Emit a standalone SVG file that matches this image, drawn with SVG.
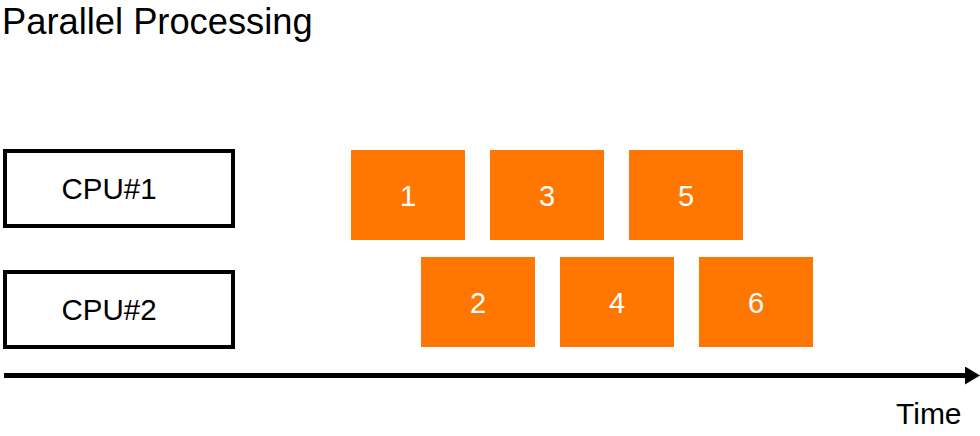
<svg xmlns="http://www.w3.org/2000/svg" width="980" height="436" viewBox="0 0 980 436">
<style>
text{font-family:"Liberation Sans",Arial,sans-serif;}
.cpu{fill:#fff;stroke:#000;stroke-width:4;}
.cpuT{font-size:29.5px;fill:#000;}
.task{fill:#FF7700;}
.taskT{font-size:29px;fill:#fff;text-anchor:middle;}
</style>
<defs>
<marker id="ah" markerUnits="userSpaceOnUse" markerWidth="16" markerHeight="18" refX="0" refY="9" orient="auto">
<path d="M0,0 L15,9 L0,18 Z" fill="#000"/>
</marker>
</defs>
<rect width="980" height="436" fill="#fff"/>
<text x="2" y="34" font-size="36.3" fill="#000">Parallel Processing</text>
<g id="cpu1"><rect class="cpu" x="5" y="151" width="228" height="75"/><text class="cpuT" x="61.5" y="199">CPU#1</text></g>
<g id="cpu2"><rect class="cpu" x="5" y="272" width="228" height="75"/><text class="cpuT" x="61.5" y="320">CPU#2</text></g>
<g id="t1"><rect class="task" x="351" y="150" width="114" height="90"/><text class="taskT" x="408" y="206">1</text></g>
<g id="t3"><rect class="task" x="490" y="150" width="114" height="90"/><text class="taskT" x="547" y="206">3</text></g>
<g id="t5"><rect class="task" x="629" y="150" width="114" height="90"/><text class="taskT" x="686" y="206">5</text></g>
<g id="t2"><rect class="task" x="421" y="257" width="114" height="90"/><text class="taskT" x="478" y="313">2</text></g>
<g id="t4"><rect class="task" x="560" y="257" width="114" height="90"/><text class="taskT" x="617" y="313">4</text></g>
<g id="t6"><rect class="task" x="699" y="257" width="114" height="90"/><text class="taskT" x="756" y="313">6</text></g>
<g id="connectors"><line x1="4" y1="375.5" x2="965" y2="375.5" stroke="#000" stroke-width="5" marker-end="url(#ah)"/></g>
<text x="896" y="424" font-size="30" fill="#000">Time</text>
</svg>
